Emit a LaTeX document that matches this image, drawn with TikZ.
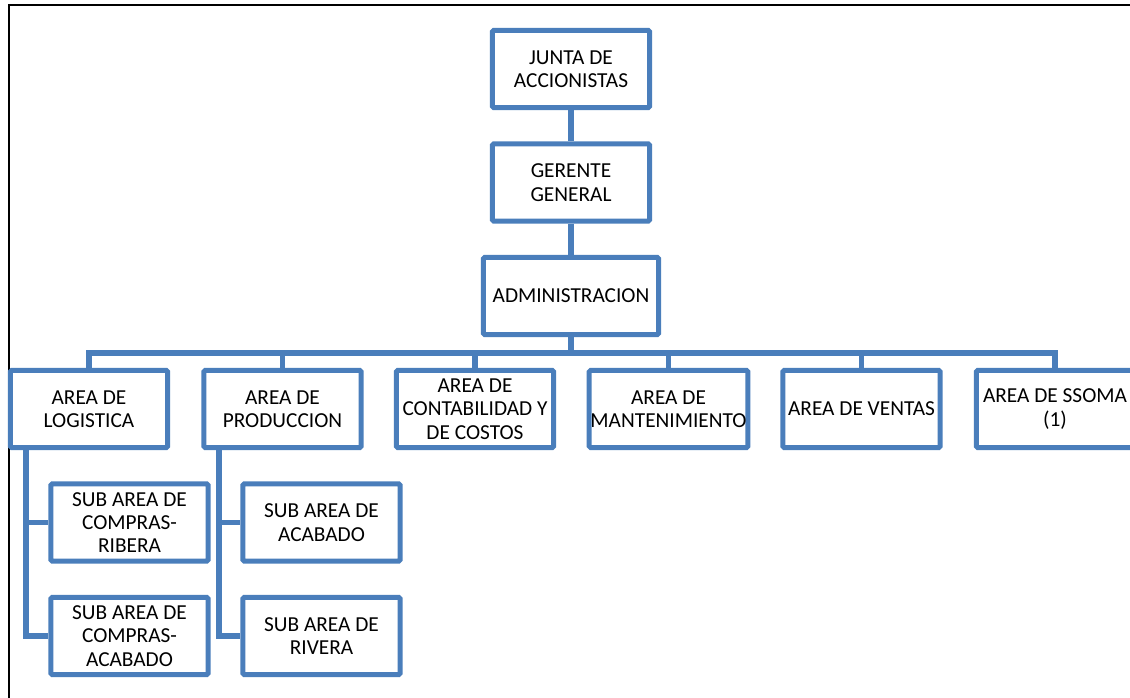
\documentclass[tikz,border=0pt]{standalone}
\usepackage{fontspec}
\setmainfont{Carlito}
\usetikzlibrary{positioning}

\definecolor{orgblue}{HTML}{4A7EBB}

\tikzset{
  box/.style={draw=orgblue, line width=3.8pt, rounded corners=1.2pt, fill=white,
    minimum width=118pt, minimum height=58pt, align=center, inner sep=1pt,
    font=\fontsize{16}{17.5}\selectfont},
  wide/.style={box, minimum width=131.5pt},
  conn/.style={draw=orgblue, line width=3.8pt}
}

\begin{document}
\begin{tikzpicture}[x=0.75pt, y=-0.75pt]
\useasboundingbox (0,0) rectangle (1130,698);

% marco
\draw[line width=1.5pt] (9,698) -- (9,5) -- (1130,5);

\def\xm{571}
\def\ya{69}
\def\yb{182.5}
\def\yc{296}
\def\yd{409}
\def\ye{522.5}
\def\yf{636}

\def\xa{89}
\def\xb{282.5}
\def\xc{475}
\def\xd{668.5}
\def\xe{861.5}
\def\xf{1055}

\node[box] (junta) at (\xm, \ya) {JUNTA DE\\ACCIONISTAS};
\node[box] (gerente) at (\xm, \yb) {GERENTE\\GENERAL};
\node[wide] (admin) at (\xm, \yc) {ADMINISTRACION};

\node[box] (logistica) at (\xa, \yd) {AREA DE\\LOGISTICA};
\node[box] (produccion) at (\xb, \yd) {AREA DE\\PRODUCCION};
\node[box] (contabilidad) at (\xc, \yd) {AREA DE\\CONTABILIDAD Y\\DE COSTOS};
\node[box] (mantenimiento) at (\xd, \yd) {AREA DE\\MANTENIMIENTO};
\node[box] (ventas) at (\xe, \yd) {AREA DE VENTAS};
\node[box] (ssoma) at (\xf, \yd) {AREA DE SSOMA\\(1)};

\node[box] (ribera) at (129.5, \ye) {SUB AREA DE\\COMPRAS-\\RIBERA};
\node[box] (compacabado) at (129.5, \yf) {SUB AREA DE\\COMPRAS-\\ACABADO};
\node[box] (acabado) at (321.5, \ye) {SUB AREA DE\\ACABADO};
\node[box] (rivera) at (321.5, \yf) {SUB AREA DE\\RIVERA};

\coordinate (bus) at (0, 353);
\coordinate (spa) at (26, 0);
\coordinate (spb) at (219, 0);

\draw[conn] (junta) -- (gerente);
\draw[conn] (gerente) -- (admin);
\draw[conn] (admin.south) -- (admin.south |- bus);
\draw[conn] (logistica.north) |- (bus -| ssoma.north) -- (ssoma.north);
\draw[conn] (produccion.north) -- (produccion.north |- bus);
\draw[conn] (contabilidad.north) -- (contabilidad.north |- bus);
\draw[conn] (mantenimiento.north) -- (mantenimiento.north |- bus);
\draw[conn] (ventas.north) -- (ventas.north |- bus);

\draw[conn] (logistica.south -| spa) |- (ribera.west);
\draw[conn] (logistica.south -| spa) |- (compacabado.west);
\draw[conn] (produccion.south -| spb) |- (acabado.west);
\draw[conn] (produccion.south -| spb) |- (rivera.west);
\end{tikzpicture}
\end{document}
